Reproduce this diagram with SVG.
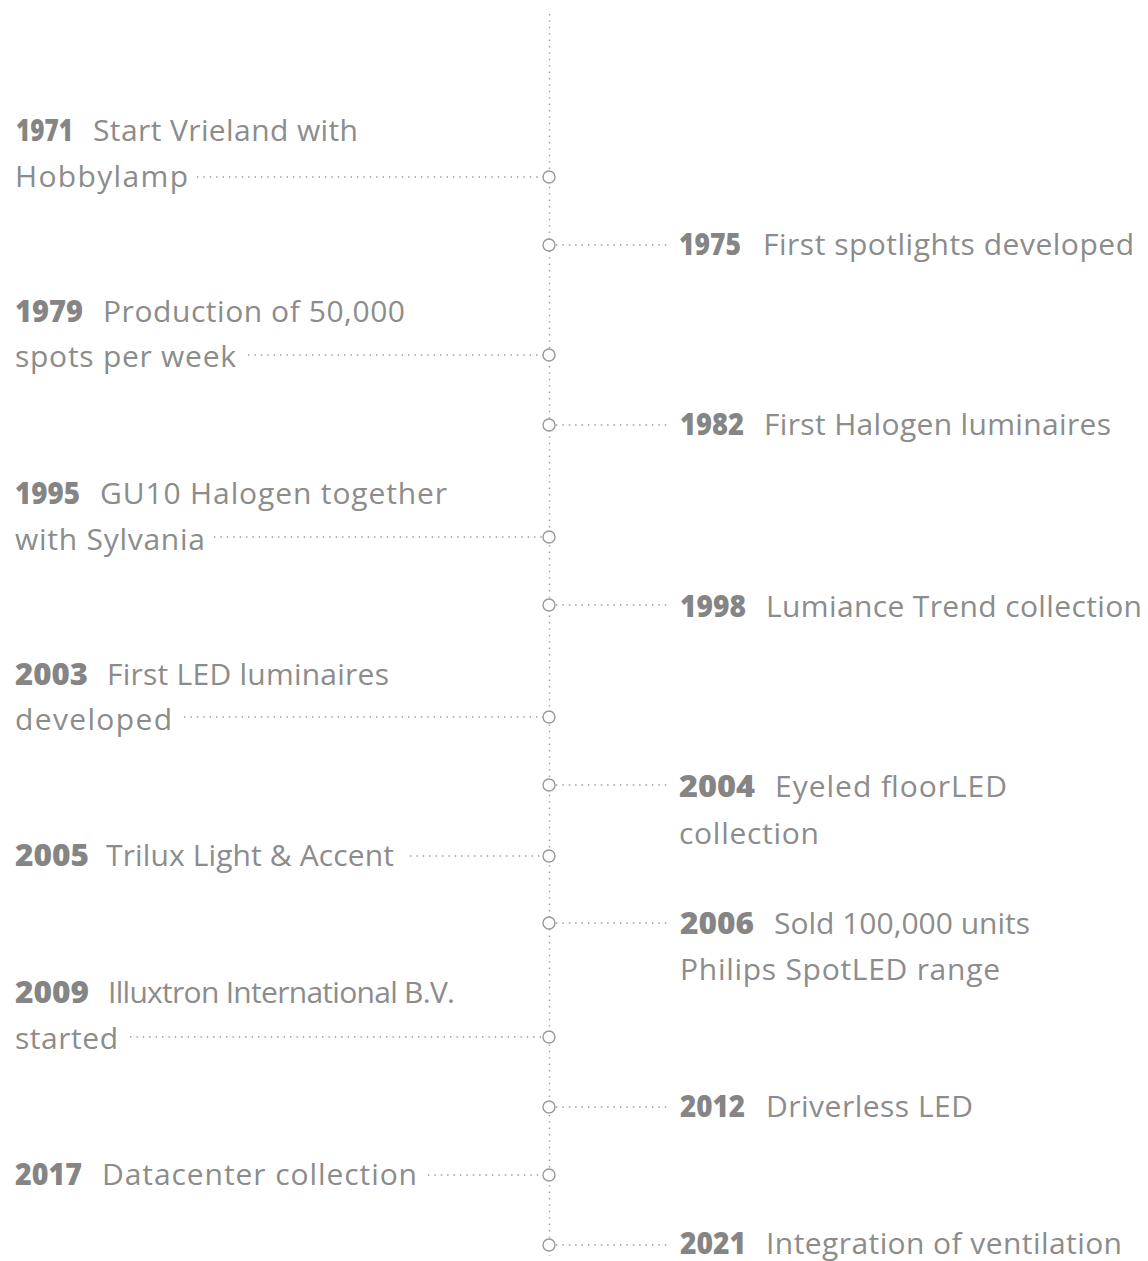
<svg xmlns="http://www.w3.org/2000/svg" width="1148" height="1261" viewBox="0 0 1148 1261">
<style>
.t{font-family:"Open Sans","Liberation Sans",sans-serif;font-size:30px;fill:#8c8c8c;}
.y{font-family:"Open Sans","Liberation Sans",sans-serif;font-size:30px;font-weight:800;fill:#858585;}
.d{stroke:#9a9a9a;stroke-width:1.4;stroke-dasharray:1.4 5;fill:none;}
.c{fill:#fff;stroke:#999;stroke-width:1.4;}
</style>
<rect width="1148" height="1261" fill="#fff"/>
<g id="connectors">
<line class="d" x1="549.5" y1="14" x2="549.5" y2="1256"/>
<line class="d" x1="197" y1="177" x2="543" y2="177"/>
<line class="d" x1="248" y1="355" x2="543" y2="355"/>
<line class="d" x1="214" y1="537" x2="543" y2="537"/>
<line class="d" x1="184" y1="717" x2="543" y2="717"/>
<line class="d" x1="410" y1="856" x2="543" y2="856"/>
<line class="d" x1="130" y1="1037" x2="543" y2="1037"/>
<line class="d" x1="428" y1="1175" x2="543" y2="1175"/>
<line class="d" x1="556" y1="245" x2="668" y2="245"/>
<line class="d" x1="556" y1="425" x2="668" y2="425"/>
<line class="d" x1="556" y1="605" x2="668" y2="605"/>
<line class="d" x1="556" y1="785" x2="668" y2="785"/>
<line class="d" x1="556" y1="923" x2="668" y2="923"/>
<line class="d" x1="556" y1="1107" x2="668" y2="1107"/>
<line class="d" x1="556" y1="1245" x2="668" y2="1245"/>
</g>
<g id="n1971"><circle class="c" cx="549" cy="177" r="6"/>
<text class="y" x="16" y="141" textLength="57" lengthAdjust="spacingAndGlyphs">1971</text>
<text class="t" x="93" y="141" textLength="265" lengthAdjust="spacing">Start Vrieland with</text>
<text class="t" x="15" y="187" textLength="173" lengthAdjust="spacing">Hobbylamp</text></g>
<g id="n1975"><circle class="c" cx="549" cy="245" r="6"/>
<text class="y" x="679" y="255" textLength="62" lengthAdjust="spacingAndGlyphs">1975</text>
<text class="t" x="763" y="255" textLength="371" lengthAdjust="spacing">First spotlights developed</text></g>
<g id="n1979"><circle class="c" cx="549" cy="355" r="6"/>
<text class="y" x="15" y="322" textLength="68" lengthAdjust="spacingAndGlyphs">1979</text>
<text class="t" x="103" y="322" textLength="302" lengthAdjust="spacing">Production of 50,000</text>
<text class="t" x="15" y="367" textLength="221" lengthAdjust="spacing">spots per week</text></g>
<g id="n1982"><circle class="c" cx="549" cy="425" r="6"/>
<text class="y" x="680" y="435" textLength="64" lengthAdjust="spacingAndGlyphs">1982</text>
<text class="t" x="764" y="435" textLength="347" lengthAdjust="spacing">First Halogen luminaires</text></g>
<g id="n1995"><circle class="c" cx="549" cy="537" r="6"/>
<text class="y" x="15" y="504" textLength="65" lengthAdjust="spacingAndGlyphs">1995</text>
<text class="t" x="100" y="504" textLength="347" lengthAdjust="spacing">GU10 Halogen together</text>
<text class="t" x="15" y="550" textLength="190" lengthAdjust="spacing">with Sylvania</text></g>
<g id="n1998"><circle class="c" cx="549" cy="605" r="6"/>
<text class="y" x="680" y="617" textLength="66" lengthAdjust="spacingAndGlyphs">1998</text>
<text class="t" x="766" y="617" textLength="376" lengthAdjust="spacing">Lumiance Trend collection</text></g>
<g id="n2003"><circle class="c" cx="549" cy="717" r="6"/>
<text class="y" x="15" y="685" textLength="73" lengthAdjust="spacingAndGlyphs">2003</text>
<text class="t" x="107" y="685" textLength="282" lengthAdjust="spacing">First LED luminaires</text>
<text class="t" x="15" y="730" textLength="157" lengthAdjust="spacing">developed</text></g>
<g id="n2004"><circle class="c" cx="549" cy="785" r="6"/>
<text class="y" x="679" y="797" textLength="76" lengthAdjust="spacingAndGlyphs">2004</text>
<text class="t" x="775" y="797" textLength="232" lengthAdjust="spacing">Eyeled floorLED</text>
<text class="t" x="679" y="844" textLength="140" lengthAdjust="spacing">collection</text></g>
<g id="n2005"><circle class="c" cx="549" cy="856" r="6"/>
<text class="y" x="15" y="866" textLength="74" lengthAdjust="spacingAndGlyphs">2005</text>
<text class="t" x="106" y="866" textLength="288" lengthAdjust="spacing">Trilux Light &amp; Accent</text></g>
<g id="n2006"><circle class="c" cx="549" cy="923" r="6"/>
<text class="y" x="680" y="934" textLength="74" lengthAdjust="spacingAndGlyphs">2006</text>
<text class="t" x="774" y="934" textLength="256" lengthAdjust="spacing">Sold 100,000 units</text>
<text class="t" x="680" y="980" textLength="320" lengthAdjust="spacing">Philips SpotLED range</text></g>
<g id="n2009"><circle class="c" cx="549" cy="1037" r="6"/>
<text class="y" x="15" y="1003" textLength="74" lengthAdjust="spacingAndGlyphs">2009</text>
<text class="t" x="108" y="1003" textLength="347" lengthAdjust="spacing">Illuxtron International B.V.</text>
<text class="t" x="15" y="1049" textLength="103" lengthAdjust="spacing">started</text></g>
<g id="n2012"><circle class="c" cx="549" cy="1107" r="6"/>
<text class="y" x="680" y="1117" textLength="65" lengthAdjust="spacingAndGlyphs">2012</text>
<text class="t" x="766" y="1117" textLength="207" lengthAdjust="spacing">Driverless LED</text></g>
<g id="n2017"><circle class="c" cx="549" cy="1175" r="6"/>
<text class="y" x="15" y="1185" textLength="67" lengthAdjust="spacingAndGlyphs">2017</text>
<text class="t" x="102" y="1185" textLength="315" lengthAdjust="spacing">Datacenter collection</text></g>
<g id="n2021"><circle class="c" cx="549" cy="1245" r="6"/>
<text class="y" x="680" y="1254" textLength="66" lengthAdjust="spacingAndGlyphs">2021</text>
<text class="t" x="766" y="1254" textLength="356" lengthAdjust="spacing">Integration of ventilation</text></g>
</svg>
